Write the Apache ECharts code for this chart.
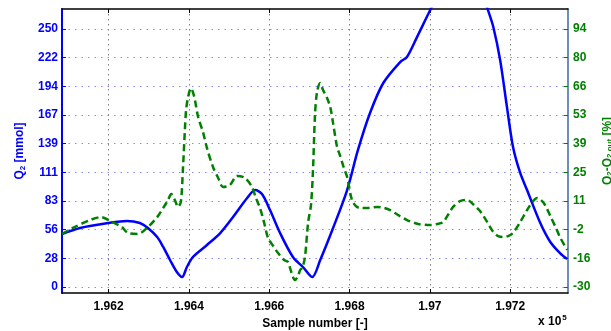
<!DOCTYPE html>
<html>
<head>
<meta charset="utf-8">
<script src="https://cdn.jsdelivr.net/npm/echarts@6/dist/echarts.min.js"></script>
<style>
html,body{margin:0;padding:0;background:#fff;}
#chart{width:611px;height:331px;}
</style>
</head>
<body>
<div id="chart"></div>
<script>
// ---- data ----
const q2Samples = [196084,196129,196199,196246,196278,196298,196321,196336,196353,196370,196383,196395,196410,196445,196478,196510,196545,196565,196582,196602,196627,196659,196684,196707,196727,196759,196794,196821,196851,196884,196926,196943,196968,197001,197038,197070,197105,197125,197143,197158,197175,197192,197207,197225,197242,197275,197300,197324,197342];
const q2Values  = [51.4,57.2,62.0,64.0,62.0,57.2,48.4,38.8,26.2,14.5,9.7,19.4,29.1,40.7,52.3,67.8,86.2,94.0,90.1,74.6,52.3,29.1,19.4,9.7,26.2,57.2,94.0,132.8,168.6,197.7,218.0,222.9,242.2,268.4,296,312,304,290,270.3,252,220,174.4,136,110.5,94.0,62.0,43.6,32.9,27.1];

const diffSamples = [196084,196111,196154,196181,196209,196233,196248,196273,196298,196321,196336,196348,196356,196365,196373,196380,196385,196390,196393,196398,196405,196410,196415,196423,196435,196445,196460,196473,196485,196502,196520,196540,196557,196567,196577,196587,196597,196610,196622,196637,196647,196652,196659,196664,196672,196677,196682,196689,196697,196704,196709,196714,196719,196727,196734,196744,196752,196759,196769,196776,196786,196794,196806,196816,196826,196846,196869,196886,196901,196921,196943,196971,197001,197018,197033,197045,197058,197075,197093,197110,197125,197143,197158,197170,197182,197195,197207,197225,197242,197257,197267,197277,197287,197300,197314,197324,197342];
const diffValues  = [-4.5,-1.6,2.2,3.6,1.2,-1.2,-4.0,-4.5,-1.2,3.6,8.0,11.8,14.7,11.8,8.5,10.9,26.2,45.5,55.1,61.3,65.6,63.7,59.9,51.7,44.5,36.8,27.7,22.4,18.1,19.0,23.4,22.4,18.1,12.8,8.0,1.2,-6.4,-10.3,-13.7,-17.0,-18.0,-20.9,-25.2,-26.6,-24.7,-21.8,-20.9,-15.6,1.2,9.4,26.2,52.7,63.7,68.0,64.7,60.8,56.5,48.8,37.3,33.4,27.2,22.9,11.8,8.9,8.0,8.0,8.5,8.0,7.0,4.6,2.2,0.3,-0.2,0.3,1.2,4.6,8.5,11.3,11.8,9.4,6.5,1.2,-3.6,-5.5,-6.0,-5.5,-4.0,1.2,7.0,11.3,12.8,11.8,9.4,4.1,-1.6,-6.0,-12.2];

const xTickValues = [196200,196400,196600,196800,197000,197200];
const xTickLabels = ['1.962','1.964','1.966','1.968','1.97','1.972'];
const leftTickValues = [0,250/9,500/9,750/9,1000/9,1250/9,1500/9,1750/9,2000/9,250];
const leftTickLabels = ['0','28','56','83','111','139','167','194','222','250'];
const rightTickValues = [-30,-30+124/9,-30+248/9,-30+372/9,-30+496/9,-30+620/9,-30+744/9,-30+868/9,-30+992/9,94];
const rightTickLabels = ['-30','-16','-2','11','25','39','53','66','80','94'];

const xMin = 196084, xMax = 197344;
const yLeftMin = -5.8, yLeftMax = 269.4;
const yRightMin = -30 + 0.496 * yLeftMin, yRightMax = -30 + 0.496 * yLeftMax;

const BLUE = '#0000ff', GREEN = '#008000';
const FONT = 'Liberation Sans, Arial, Helvetica, sans-serif';

function zip(a, b) { return a.map((v, i) => [v, b[i]]); }
function labelFor(values, labels) {
  return function (v) {
    for (let i = 0; i < values.length; i++) if (Math.abs(values[i] - v) < 1e-6) return labels[i];
    return '';
  };
}

const chart = echarts.init(document.getElementById('chart'), null, {renderer: 'canvas'});
chart.setOption({
  animation: false,
  backgroundColor: '#ffffff',
  grid: {left: 62, right: 43, top: 9, bottom: 38, containLabel: false, outerBoundsMode: 'none'},
  xAxis: [{
    type: 'value', min: xMin, max: xMax, position: 'bottom',
    name: 'Sample number [-]', nameLocation: 'middle', nameGap: 21,
    nameTextStyle: {fontFamily: FONT, fontWeight: 'bold', fontSize: 12, color: '#000'},
    axisLine: {show: true, onZero: false, lineStyle: {color: '#000', width: 1.5}},
    axisTick: {show: true, inside: true, length: 4, customValues: xTickValues, lineStyle: {color: '#000'}},
    axisLabel: {customValues: xTickValues, formatter: labelFor(xTickValues, xTickLabels), fontFamily: FONT, fontWeight: 'bold', fontSize: 12, color: '#000', margin: 8},
    splitLine: {show: true, lineStyle: {color: '#808080', type: [1.5, 3.5], width: 1}}
  }, {
    type: 'value', min: xMin, max: xMax, position: 'top',
    axisLine: {show: true, onZero: false, lineStyle: {color: '#000', width: 1.5}},
    axisTick: {show: true, inside: true, length: 4, customValues: xTickValues, lineStyle: {color: '#000'}},
    axisLabel: {show: false},
    splitLine: {show: false}
  }],
  yAxis: [{
    type: 'value', min: yLeftMin, max: yLeftMax, position: 'left',
    name: '{n|Q}{s|2}{n| [mmol]}', nameLocation: 'middle', nameGap: 33, nameRotate: 90,
    nameTextStyle: {rich: {
      n: {fontFamily: FONT, fontWeight: 'bold', fontSize: 12, color: BLUE},
      s: {fontFamily: FONT, fontWeight: 'bold', fontSize: 8, color: BLUE, verticalAlign: 'bottom', padding: [6, 0, 0, 0]}
    }},
    axisLine: {show: true, onZero: false, lineStyle: {color: BLUE, width: 2}},
    axisTick: {show: true, inside: true, length: 4, customValues: leftTickValues, lineStyle: {color: BLUE}},
    axisLabel: {customValues: leftTickValues, formatter: labelFor(leftTickValues, leftTickLabels), fontFamily: FONT, fontWeight: 'bold', fontSize: 12, color: BLUE, margin: 4},
    splitLine: {show: true, lineStyle: {color: '#8a8aff', type: [1.5, 5], width: 1}}
  }, {
    type: 'value', min: yRightMin, max: yRightMax, position: 'right',
    name: '{n|Q}{s|2}{n|-Q}{s|2,out}{n| [%]}', nameLocation: 'middle', nameGap: 29, nameRotate: 90,
    nameTextStyle: {rich: {
      n: {fontFamily: FONT, fontWeight: 'bold', fontSize: 12, color: GREEN},
      s: {fontFamily: FONT, fontWeight: 'bold', fontSize: 8, color: GREEN, verticalAlign: 'bottom', padding: [6, 0, 0, 0]}
    }},
    axisLine: {show: true, onZero: false, lineStyle: {color: '#3a6aa0', width: 1.5}},
    axisTick: {show: true, inside: true, length: 4, customValues: rightTickValues, lineStyle: {color: GREEN}},
    axisLabel: {customValues: rightTickValues, formatter: labelFor(rightTickValues, rightTickLabels), fontFamily: FONT, fontWeight: 'bold', fontSize: 12, color: GREEN, margin: 5},
    splitLine: {show: false}
  }],
  graphic: [{
    type: 'text', left: 538, top: 314,
    style: {
      text: '{a|x 10}{b|5}',
      rich: {
        a: {fontFamily: FONT, fontWeight: 'bold', fontSize: 12, fill: '#000'},
        b: {fontFamily: FONT, fontWeight: 'bold', fontSize: 8, fill: '#000', verticalAlign: 'top', padding: [0, 0, 8, 1]}
      }
    }
  }],
  series: [{
    type: 'line', name: 'Q2', xAxisIndex: 0, yAxisIndex: 0,
    data: zip(q2Samples, q2Values), showSymbol: false, smooth: 0.3, clip: true, z: 3,
    lineStyle: {color: BLUE, width: 2.5}
  }, {
    type: 'line', name: 'diff', xAxisIndex: 0, yAxisIndex: 1,
    data: zip(diffSamples, diffValues), showSymbol: false, smooth: 0.3, clip: true, z: 4,
    lineStyle: {color: GREEN, width: 2.5, type: [7, 4]}
  }]
});
</script>
</body>
</html>
